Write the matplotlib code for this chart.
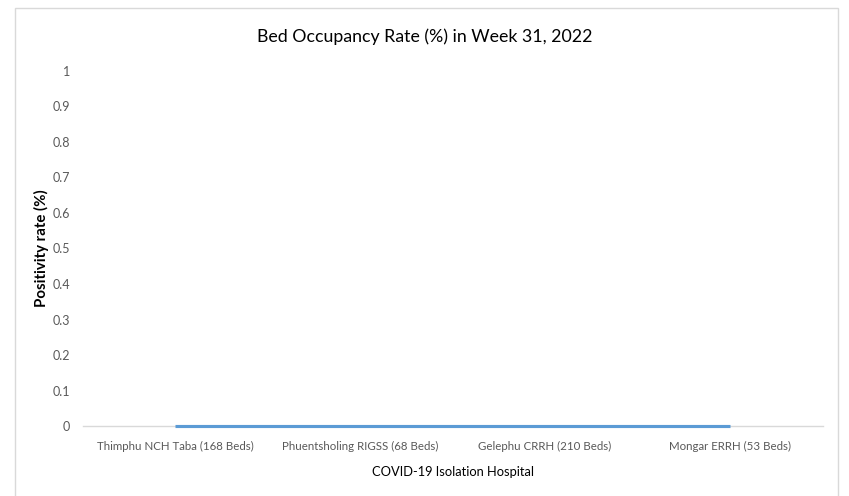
import matplotlib.pyplot as plt
from matplotlib.patches import Rectangle

hospitals = ["Thimphu NCH Taba (168 Beds)", "Phuentsholing RIGSS (68 Beds)",
             "Gelephu CRRH (210 Beds)", "Mongar ERRH (53 Beds)"]
occupancy = [0, 0, 0, 0]
yticks = [0, 0.1, 0.2, 0.3, 0.4, 0.5, 0.6, 0.7, 0.8, 0.9, 1]
ytick_labels = ["0", "0.1", "0.2", "0.3", "0.4", "0.5", "0.6", "0.7", "0.8", "0.9", "1"]

plt.rcParams['font.family'] = ['Lato', 'DejaVu Sans']

fig = plt.figure(figsize=(8.49, 4.96), dpi=100)
ax = fig.add_axes([0.0972, 0.1411, 0.8716, 0.7158])

# outer chart border (bottom edge runs off the image)
fig.patches.append(Rectangle((15 / 849, -0.05), 823 / 849, 1 - 8 / 496 + 0.05,
                             transform=fig.transFigure, fill=False,
                             edgecolor="#D9D9D9", linewidth=1))

x = list(range(len(hospitals)))
ax.plot(x, occupancy, color="#5B9BD5", linewidth=2.25, solid_capstyle="butt",
        clip_on=False, zorder=5)

ax.set_xlim(-0.5, len(hospitals) - 0.5)
ax.set_ylim(0, 1)
ax.set_xticks(x)
ax.set_xticklabels(hospitals, fontsize=8.3, color="#595959")
ax.set_yticks(yticks)
ax.set_yticklabels(ytick_labels, fontsize=9, color="#595959")
ax.tick_params(length=0)
ax.tick_params(axis="x", pad=11)
ax.tick_params(axis="y", pad=9)

for s in ["top", "right", "left"]:
    ax.spines[s].set_visible(False)
ax.spines["bottom"].set_color("#D9D9D9")
ax.spines["bottom"].set_linewidth(1)

ax.set_xlabel("COVID-19 Isolation Hospital", fontsize=9.3, color="black", labelpad=10)
ax.set_ylabel("Positivity rate (%)", fontsize=10.8, fontweight="bold", color="black")
ax.yaxis.set_label_coords(-34 / 740, 0.5)
fig.text(0.5, 1 - 37 / 496, "Bed Occupancy Rate (%) in Week 31, 2022",
         ha="center", va="center", fontsize=12.8)

fig.savefig("out.png", dpi=100)
